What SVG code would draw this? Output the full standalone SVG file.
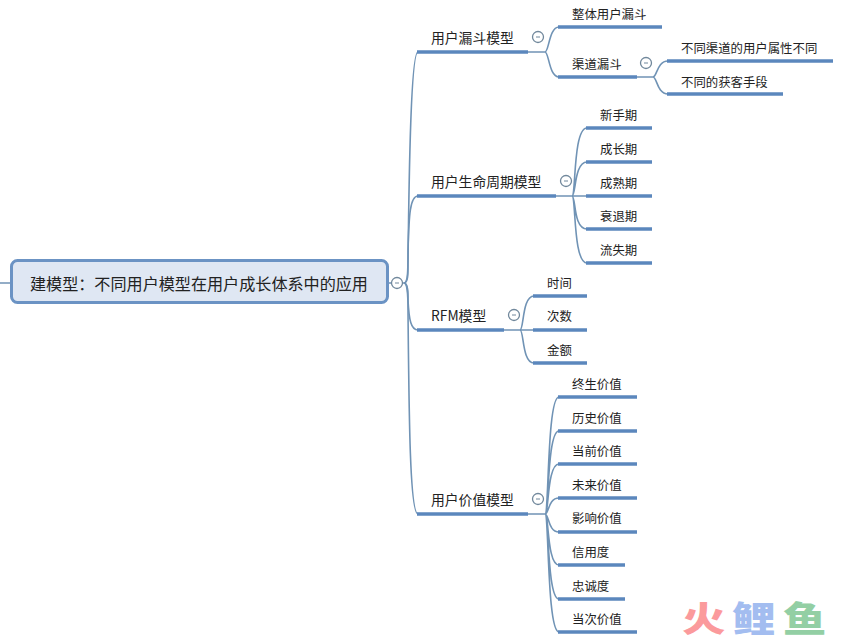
<svg xmlns="http://www.w3.org/2000/svg" width="850" height="642" viewBox="0 0 850 642">
<style>
text{font-family:"Noto Sans CJK SC","Noto Sans",sans-serif;fill:#222;dominant-baseline:central}
.t1{font-size:13.800px}.t2{font-size:12.400px}
.u{stroke:#5b87bd;stroke-width:3.4;fill:none}
.c{stroke:#7093b5;stroke-width:1.6;fill:none}
.o{fill:#fff;stroke:#71889c;stroke-width:1.3}
.m{stroke:#71889c;stroke-width:1}
.logo{font-size:35px;font-weight:900}
</style>
<rect width="850" height="642" fill="#fff"/>
<g id="connectors">
<path class="c" d="M0 283H11M388 283H404"/>
<path class="c" d="M404 283C408 283 408 275 408 265C409 170 411 52 418 52"/>
<path class="c" d="M404 283C408 283 408 270 408 250C409 215 410 196 418 196"/>
<path class="c" d="M404 283C408 283 408 292 408 300C409 320 411 330 418 330"/>
<path class="c" d="M404 283C408 283 408 295 408 310C409 420 410 514 418 514"/>
<path class="c" d="M528 52H545M545 52C549 52 549 27 559 27M545 52C549 52 549 77 559 77"/>
<path class="c" d="M637 77H653M653 77C657 77 657 61 668 61M653 77C657 77 657 94 668 94"/>
<path class="c" d="M556 196H586M572 196C576 196 573 128 587 128M572 196C576 196 574 162 587 162M572 196C576 196 573 229 587 229M572 196C576 196 573 263 587 263"/>
<path class="c" d="M504 330H520M520 330C524 330 522 296 534 296M520 330C524 330 522 363 534 363M520 330H534"/>
<path class="c" d="M528 514H545M545 514C549 514 547 397 559 397M545 514C549 514 547 431 559 431M545 514C549 514 547 464 559 464M545 514C549 514 548 498 559 498M545 514C549 514 548 532 559 532M545 514C549 514 547 565 559 565M545 514C549 514 547 599 559 599M545 514C549 514 547 632 559 632"/>
</g>
<g id="root"><rect x="11.500" y="260.500" width="376" height="42" rx="6" fill="#dfe7f3" stroke="#6b93c4" stroke-width="3"/><text x="30" y="283" font-size="16.100">建模型：不同用户模型在用户成长体系中的应用</text><circle class="o" cx="397" cy="283" r="5.500"/><path class="m" d="M395 283H399"/></g>
<g id="n1"><path class="u" d="M417 52H528"/><text class="t1" x="431" y="37">用户漏斗模型</text><circle class="o" cx="538" cy="37" r="5.500"/><path class="m" d="M536 37H540"/></g>
<g id="n1a"><path class="u" d="M558 27H662"/><text class="t2" x="572" y="14">整体用户漏斗</text></g>
<g id="n1b"><path class="u" d="M558 77H637"/><text class="t2" x="572" y="64">渠道漏斗</text><circle class="o" cx="646" cy="63" r="5.500"/><path class="m" d="M644 63H648"/></g>
<g id="n1b1"><path class="u" d="M667 61H833"/><text class="t2" x="681" y="48">不同渠道的用户属性不同</text></g>
<g id="n1b2"><path class="u" d="M667 94H783"/><text class="t2" x="681" y="82">不同的获客手段</text></g>
<g id="n2"><path class="u" d="M417 196H556"/><text class="t1" x="431" y="181">用户生命周期模型</text><circle class="o" cx="566" cy="181" r="5.500"/><path class="m" d="M564 181H568"/></g>
<g id="n2a"><path class="u" d="M586 128H652"/><text class="t2" x="600" y="115">新手期</text></g>
<g id="n2b"><path class="u" d="M586 162H652"/><text class="t2" x="600" y="149">成长期</text></g>
<g id="n2c"><path class="u" d="M586 196H652"/><text class="t2" x="600" y="183">成熟期</text></g>
<g id="n2d"><path class="u" d="M586 229H652"/><text class="t2" x="600" y="216">衰退期</text></g>
<g id="n2e"><path class="u" d="M586 263H652"/><text class="t2" x="600" y="250">流失期</text></g>
<g id="n3"><path class="u" d="M417 330H504"/><text class="t1" x="431" y="315">RFM模型</text><circle class="o" cx="514" cy="315" r="5.500"/><path class="m" d="M512 315H516"/></g>
<g id="n3a"><path class="u" d="M533 296H587"/><text class="t2" x="547" y="283">时间</text></g>
<g id="n3b"><path class="u" d="M533 330H587"/><text class="t2" x="547" y="316">次数</text></g>
<g id="n3c"><path class="u" d="M533 363H587"/><text class="t2" x="547" y="350">金额</text></g>
<g id="n4"><path class="u" d="M417 514H528"/><text class="t1" x="431" y="499">用户价值模型</text><circle class="o" cx="538" cy="499" r="5.500"/><path class="m" d="M536 499H540"/></g>
<g id="n4a"><path class="u" d="M558 397H637"/><text class="t2" x="572" y="384">终生价值</text></g>
<g id="n4b"><path class="u" d="M558 431H637"/><text class="t2" x="572" y="418">历史价值</text></g>
<g id="n4c"><path class="u" d="M558 464H637"/><text class="t2" x="572" y="451">当前价值</text></g>
<g id="n4d"><path class="u" d="M558 498H637"/><text class="t2" x="572" y="485">未来价值</text></g>
<g id="n4e"><path class="u" d="M558 532H637"/><text class="t2" x="572" y="518">影响价值</text></g>
<g id="n4f"><path class="u" d="M558 565H625"/><text class="t2" x="572" y="552">信用度</text></g>
<g id="n4g"><path class="u" d="M558 599H625"/><text class="t2" x="572" y="586">忠诚度</text></g>
<g id="n4h"><path class="u" d="M558 632H637"/><text class="t2" x="572" y="619">当次价值</text></g>
<g id="logo"><text class="logo" transform="translate(682 616.500) scale(1.240 1)" style="fill:#fb9a9c">火</text><text class="logo" transform="translate(732 616.500) scale(1.240 1)" style="fill:#a3bdf0">鲤</text><text class="logo" transform="translate(783 616.500) scale(1.240 1)" style="fill:#93cfa4">鱼</text></g>
</svg>
